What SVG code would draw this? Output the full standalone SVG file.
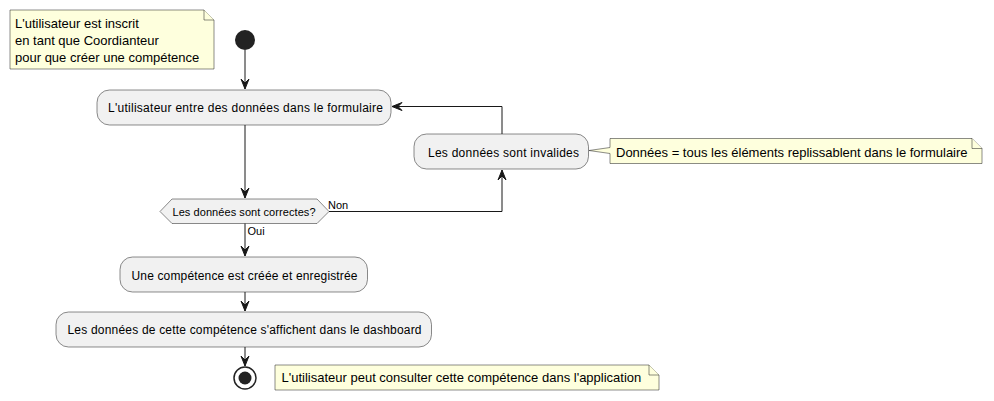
<svg xmlns="http://www.w3.org/2000/svg" width="994" height="401" viewBox="0 0 994 401">
<style>
.act{fill:#F1F1F1;stroke:#181818;stroke-width:0.5}
.note{fill:#FEFFDD;stroke:#181818;stroke-width:0.5}
.t{font-family:"Liberation Sans",Arial,sans-serif;font-size:12px;fill:#000}
.tn{font-family:"Liberation Sans",Arial,sans-serif;font-size:13px;fill:#000}
.ts{font-family:"Liberation Sans",Arial,sans-serif;font-size:11px;fill:#000}
.ln{fill:none;stroke:#181818;stroke-width:1}
</style>
<defs>
<marker id="ah" viewBox="-11 -5 12 10" refX="0" refY="0" markerWidth="12" markerHeight="10" markerUnits="userSpaceOnUse" orient="auto">
<path d="M0,0 L-10,-4 L-6,0 L-10,4 Z" fill="#181818" stroke="#181818" stroke-width="1"/>
</marker>
</defs>
<rect width="994" height="401" fill="#FFFFFF"/>
<g id="note1">
<path class="note" d="M10,10 L204,10 L214,20 L214,69 L10,69 Z"/>
<path class="note" d="M204,10 L204,20 L214,20"/>
<text class="tn" x="15" y="28">L'utilisateur est inscrit</text>
<text class="tn" x="15" y="45">en tant que Coordianteur</text>
<text class="tn" x="15" y="62">pour que créer une compétence</text>
</g>
<g id="start">
<circle cx="245" cy="40" r="10" fill="#222222"/>
</g>
<g id="act1">
<rect class="act" x="97" y="90" width="294" height="35" rx="12.5" ry="12.5"/>
<text class="t" x="108" y="112" textLength="275" lengthAdjust="spacing">L'utilisateur entre des données dans le formulaire</text>
</g>
<g id="decision">
<polygon class="act" points="160,211.5 172,199 317,199 329,211.5 317,223.5 172,223.5"/>
<text class="ts" x="172.5" y="216" textLength="143" lengthAdjust="spacing">Les données sont correctes?</text>
</g>
<g id="invalid">
<rect class="act" x="414" y="134" width="174.5" height="35" rx="12.5" ry="12.5"/>
<text class="t" x="428" y="157" textLength="151" lengthAdjust="spacing">Les données sont invalides</text>
</g>
<g id="note2">
<path class="note" d="M610,138.5 L972,138.5 L982,148.5 L982,163.5 L610,163.5 L610,153.5 L589,150.5 L610,147.5 Z"/>
<path class="note" d="M972,138.5 L972,148.5 L982,148.5"/>
<text class="tn" x="616" y="156.5">Données = tous les éléments replissablent dans le formulaire</text>
</g>
<g id="act3">
<rect class="act" x="120" y="257" width="247.5" height="35" rx="12.5" ry="12.5"/>
<text class="t" x="131.5" y="280" textLength="226" lengthAdjust="spacing">Une compétence est créée et enregistrée</text>
</g>
<g id="act4">
<rect class="act" x="56" y="312" width="375.5" height="35" rx="12.5" ry="12.5"/>
<text class="t" x="67.5" y="334" textLength="354" lengthAdjust="spacing">Les données de cette compétence s'affichent dans le dashboard</text>
</g>
<g id="end">
<circle cx="245" cy="378" r="11" fill="none" stroke="#222222" stroke-width="1.5"/>
<circle cx="245" cy="378" r="6.5" fill="#222222"/>
</g>
<g id="note3">
<path class="note" d="M275,365 L649,365 L659,375 L659,390 L275,390 Z"/>
<path class="note" d="M649,365 L649,375 L659,375"/>
<text class="tn" x="281.5" y="382">L'utilisateur peut consulter cette compétence dans l'application</text>
</g>
<g id="connectors">
<path class="ln" d="M245,50 L245,89" marker-end="url(#ah)"/>
<path class="ln" d="M245,125 L245,198" marker-end="url(#ah)"/>
<path class="ln" d="M329,211.5 L502,211.5 L502,170" marker-end="url(#ah)"/>
<path class="ln" d="M502,134 L502,106.5 L392,106.5" marker-end="url(#ah)"/>
<path class="ln" d="M245,223.5 L245,256" marker-end="url(#ah)"/>
<path class="ln" d="M245,292 L245,311" marker-end="url(#ah)"/>
<path class="ln" d="M245,347 L245,366" marker-end="url(#ah)"/>
<text class="ts" x="328" y="209">Non</text>
<text class="ts" x="247.5" y="235">Oui</text>
</g>
</svg>
